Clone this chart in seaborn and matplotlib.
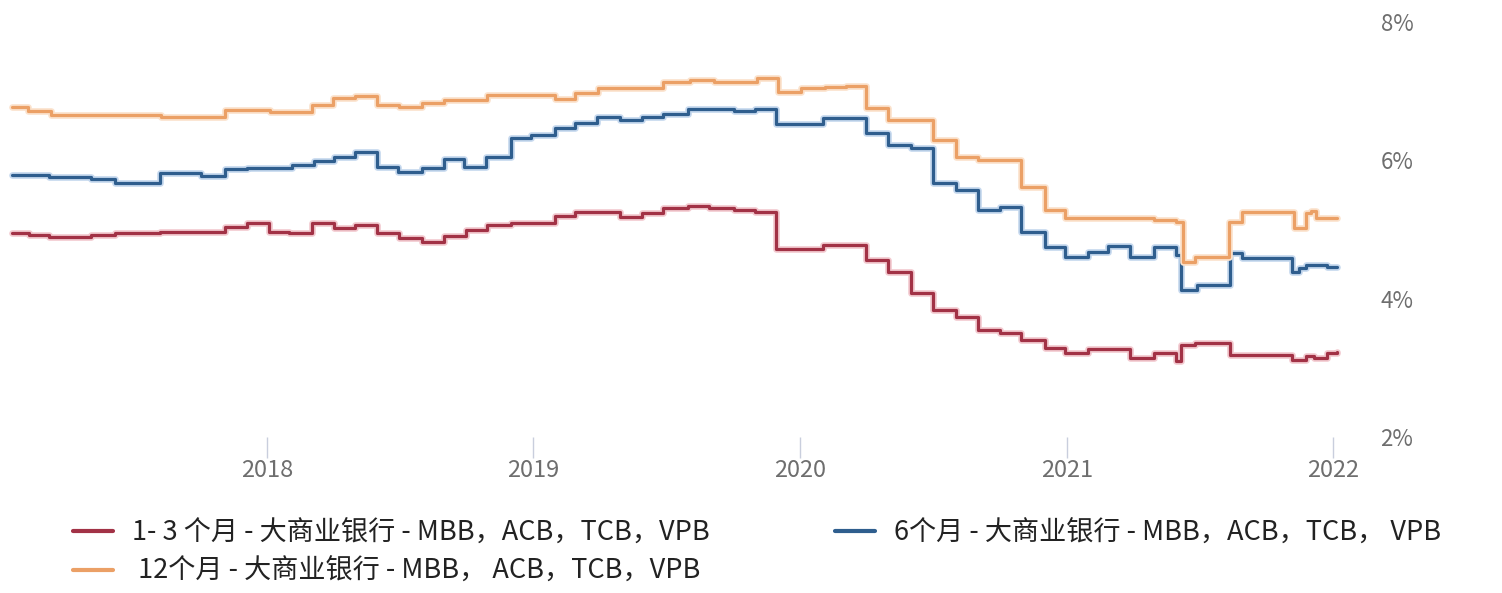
import matplotlib
matplotlib.use("Agg")
import matplotlib.pyplot as plt
import matplotlib.dates as mdates
import matplotlib.patheffects as pe
import pandas as pd
import seaborn as sns

sns.set_theme(style="white")
plt.rcParams['font.family'] = ['Noto Sans CJK SC', 'DejaVu Sans']

# step change dates / values (%)
short_dates = ["2017-01-17", "2017-02-09", "2017-03-08", "2017-05-05", "2017-06-06", "2017-08-07",
               "2017-11-04", "2017-12-04", "2018-01-03", "2018-01-31", "2018-03-03", "2018-04-03",
               "2018-05-02", "2018-06-01", "2018-07-01", "2018-08-01", "2018-09-01", "2018-10-01",
               "2018-10-30", "2018-12-01", "2019-01-30", "2019-02-27", "2019-04-30", "2019-05-30",
               "2019-06-28", "2019-08-01", "2019-08-30", "2019-10-03", "2019-11-01", "2019-11-30",
               "2020-02-02", "2020-04-01", "2020-05-01", "2020-06-01", "2020-07-01", "2020-08-02",
               "2020-09-01", "2020-10-02", "2020-10-30", "2020-12-02", "2020-12-29", "2021-01-30",
               "2021-03-29", "2021-05-01", "2021-05-30", "2021-06-07", "2021-06-26", "2021-08-13",
               "2021-11-05", "2021-11-25", "2021-12-05", "2021-12-23", "2022-01-06"]
short_rates = [4.95, 4.92, 4.89, 4.92, 4.95, 4.96,
               5.03, 5.09, 4.96, 4.95, 5.09, 5.02,
               5.06, 4.95, 4.88, 4.82, 4.90, 4.99,
               5.06, 5.09, 5.19, 5.25, 5.18, 5.24,
               5.31, 5.34, 5.31, 5.28, 5.25, 4.72,
               4.77, 4.56, 4.38, 4.08, 3.84, 3.73,
               3.55, 3.50, 3.40, 3.29, 3.21, 3.27,
               3.14, 3.21, 3.10, 3.33, 3.36, 3.18,
               3.11, 3.17, 3.14, 3.21, 3.23]

mid_dates = ["2017-01-17", "2017-03-08", "2017-05-05", "2017-06-06", "2017-08-07", "2017-10-03",
             "2017-11-04", "2017-12-04", "2018-02-04", "2018-03-06", "2018-04-03", "2018-05-02",
             "2018-05-31", "2018-06-30", "2018-08-01", "2018-09-01", "2018-09-28", "2018-10-28",
             "2018-12-01", "2018-12-28", "2019-01-30", "2019-02-27", "2019-03-29", "2019-04-30",
             "2019-05-30", "2019-06-28", "2019-08-01", "2019-10-03", "2019-11-01", "2019-11-30",
             "2020-02-02", "2020-04-01", "2020-05-01", "2020-06-02", "2020-07-01", "2020-08-02",
             "2020-09-01", "2020-10-02", "2020-10-30", "2020-12-02", "2020-12-29", "2021-01-30",
             "2021-02-26", "2021-03-29", "2021-05-01", "2021-05-30", "2021-06-07", "2021-06-28",
             "2021-08-13", "2021-08-29", "2021-11-05", "2021-11-15", "2021-11-25", "2021-12-23",
             "2022-01-06"]
mid_rates = [5.79, 5.76, 5.73, 5.67, 5.82, 5.77,
             5.87, 5.89, 5.93, 5.99, 6.05, 6.12,
             5.90, 5.83, 5.89, 6.02, 5.90, 6.05,
             6.32, 6.36, 6.47, 6.54, 6.62, 6.58,
             6.62, 6.67, 6.74, 6.71, 6.74, 6.52,
             6.61, 6.39, 6.22, 6.18, 5.67, 5.57,
             5.28, 5.32, 4.96, 4.75, 4.60, 4.67,
             4.76, 4.60, 4.75, 4.63, 4.12, 4.20,
             4.66, 4.59, 4.38, 4.45, 4.49, 4.46,
             4.46]

long_dates = ["2017-01-17", "2017-02-07", "2017-03-11", "2017-08-08", "2017-11-04", "2018-01-05",
              "2018-03-03", "2018-04-01", "2018-05-02", "2018-06-01", "2018-07-01", "2018-08-01",
              "2018-09-01", "2018-10-30", "2019-01-30", "2019-02-27", "2019-03-30", "2019-06-28",
              "2019-08-03", "2019-09-05", "2019-11-04", "2019-12-02", "2020-01-03", "2020-02-05",
              "2020-03-04", "2020-04-01", "2020-05-01", "2020-07-01", "2020-08-02", "2020-09-01",
              "2020-10-30", "2020-12-02", "2020-12-29", "2021-05-01", "2021-05-30", "2021-06-09",
              "2021-06-26", "2021-08-11", "2021-08-29", "2021-11-08", "2021-11-25", "2021-12-01",
              "2021-12-08", "2022-01-06"]
long_rates = [6.77, 6.72, 6.65, 6.62, 6.73, 6.70,
              6.80, 6.90, 6.93, 6.80, 6.77, 6.83,
              6.87, 6.94, 6.88, 6.97, 7.04, 7.13,
              7.16, 7.13, 7.19, 6.99, 7.04, 7.06,
              7.07, 6.75, 6.58, 6.29, 6.05, 6.00,
              5.61, 5.28, 5.16, 5.14, 5.11, 4.53,
              4.60, 5.11, 5.25, 5.02, 5.24, 5.27,
              5.16, 5.16]

labels = ["1- 3 个月 - 大商业银行 - MBB，ACB，TCB，VPB",
          "6个月 - 大商业银行 - MBB，ACB，TCB， VPB",
          " 12个月 - 大商业银行 - MBB， ACB，TCB，VPB"]
colors = ["#A23246", "#2F5E8E", "#EBA066"]
halos = ["#F2C9CF", "#C5D8EE", "#FBE2CC"]
year_ticks = ["2018", "2019", "2020", "2021", "2022"]
pct_ticks = [2, 4, 6, 8]

series = [(short_dates, short_rates), (mid_dates, mid_rates), (long_dates, long_rates)]

fig = plt.figure(figsize=(15.02, 5.93), dpi=100)
ax = fig.add_axes([0.0, 1 - 437 / 593, 1350 / 1502, (437 - 22) / 593])

handles = {}
for (d, r), lab, c, h in zip(series, labels, colors, halos):
    df = pd.DataFrame({"date": pd.to_datetime(d), "rate": r})
    sns.lineplot(data=df, x="date", y="rate", ax=ax, color=c, lw=2.3,
                 drawstyle="steps-post", label=lab, legend=False,
                 path_effects=[pe.Stroke(linewidth=4.8, foreground=h), pe.Normal()])
    handles[lab] = ax.lines[-1]

ax.set_xlim(pd.Timestamp("2016-12-31"), pd.Timestamp("2022-01-24"))
ax.set_ylim(2, 8)
for s in ax.spines.values():
    s.set_visible(False)
ax.set_xlabel("")
ax.set_ylabel("")

ax.set_xticks(pd.to_datetime([f"{y}-01-01" for y in year_ticks]))
ax.xaxis.set_major_formatter(mdates.DateFormatter("%Y"))
ax.tick_params(axis="x", length=15, width=1, color="#C9CEDD", labelsize=17,
               labelcolor="#6E6E6E", pad=1, direction="out", bottom=True)

ax.yaxis.tick_right()
ax.set_yticks(pct_ticks)
ax.set_yticklabels([f"{v}%" for v in pct_ticks])
ax.tick_params(axis="y", length=0, labelsize=16, labelcolor="#6E6E6E", pad=22)

order = [labels[0], labels[2], labels[1]]
leg = fig.legend([handles[k] for k in order], order, ncol=2,
                 loc="upper left", bbox_to_anchor=(62 / 1502, 1 - 509 / 593),
                 frameon=False, fontsize=19.5, handlelength=1.5, handletextpad=0.7,
                 columnspacing=4.6, labelspacing=0.42, borderaxespad=0)
for t in leg.get_texts():
    t.set_color("#222222")
for l in leg.get_lines():
    l.set_linewidth(3)
    l.set_path_effects([])

fig.savefig("out.png", dpi=100)
